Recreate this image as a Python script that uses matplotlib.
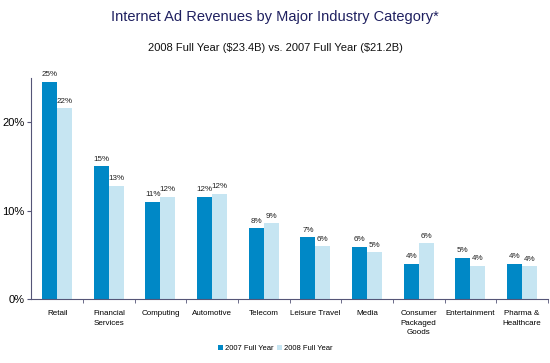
import matplotlib
matplotlib.use("Agg")
import matplotlib.pyplot as plt
import numpy as np

plt.rcParams['font.family'] = ['Liberation Sans', 'DejaVu Sans']

categories = ["Retail", "Financial\nServices", "Computing", "Automotive", "Telecom",
              "Leisure Travel", "Media", "Consumer\nPackaged\nGoods", "Entertainment",
              "Pharma &\nHealthcare"]
fy2007 = [24.6, 15.0, 11.0, 11.6, 8.0, 7.0, 5.9, 4.0, 4.7, 4.0]
fy2008 = [21.6, 12.8, 11.6, 11.9, 8.6, 6.0, 5.3, 6.3, 3.8, 3.7]
labels2007 = ["25%", "15%", "11%", "12%", "8%", "7%", "6%", "4%", "5%", "4%"]
labels2008 = ["22%", "13%", "12%", "12%", "9%", "6%", "5%", "6%", "4%", "4%"]
yticks = [0, 10, 20]
yticklabels = ["0%", "10%", "20%"]

dark = "#0088C6"
light = "#C6E5F2"

fig = plt.figure(figsize=(5.5, 3.63), dpi=100)
ax = fig.add_axes([0.057, 0.176, 0.939, 0.609])

x = np.arange(len(categories))
w = 0.29
b1 = ax.bar(x - w/2, fy2007, w, color=dark, label="2007 Full Year")
b2 = ax.bar(x + w/2, fy2008, w, color=light, label="2008 Full Year")

for rect, lab in zip(b1, labels2007):
    ax.text(rect.get_x() + rect.get_width()/2, rect.get_height() + 0.4, lab,
            ha='center', va='bottom', fontsize=5.8, color='#222222')
for rect, lab in zip(b2, labels2008):
    ax.text(rect.get_x() + rect.get_width()/2, rect.get_height() + 0.4, lab,
            ha='center', va='bottom', fontsize=5.8, color='#222222')

ax.set_xlim(-0.5, len(categories) - 0.5)
ax.set_ylim(0, 25)
ax.set_yticks(yticks)
ax.set_yticklabels(yticklabels, fontsize=8)
ax.set_xticks(x)
ax.set_xticklabels(categories, fontsize=5.8, linespacing=1.5)
ax.tick_params(axis='x', length=0, pad=8)
ax.set_xticks(np.arange(len(categories)) + 0.5, minor=True)
ax.tick_params(axis='x', which='minor', length=3, color='#555577')
ax.tick_params(axis='y', length=3, color='#555577', pad=2)

for s in ['top', 'right']:
    ax.spines[s].set_visible(False)
ax.spines['left'].set_color('#555577')
ax.spines['bottom'].set_color('#555577')
ax.spines['left'].set_linewidth(0.8)
ax.spines['bottom'].set_linewidth(0.8)

fig.text(0.5, 0.952, "Internet Ad Revenues by Major Industry Category*", ha='center', va='center',
         fontsize=10.5, color='#1F2060')
fig.text(0.5, 0.868, "2008 Full Year (\\$23.4B) vs. 2007 Full Year (\\$21.2B)", ha='center', va='center',
         fontsize=8, color='#111111')

fig.legend(handles=[b1, b2], loc='center', bbox_to_anchor=(0.5, 0.04), ncol=2, frameon=False,
           fontsize=5.5, handlelength=0.7, handleheight=0.7, handletextpad=0.2, columnspacing=0.5)

fig.savefig("out.png", dpi=100)
